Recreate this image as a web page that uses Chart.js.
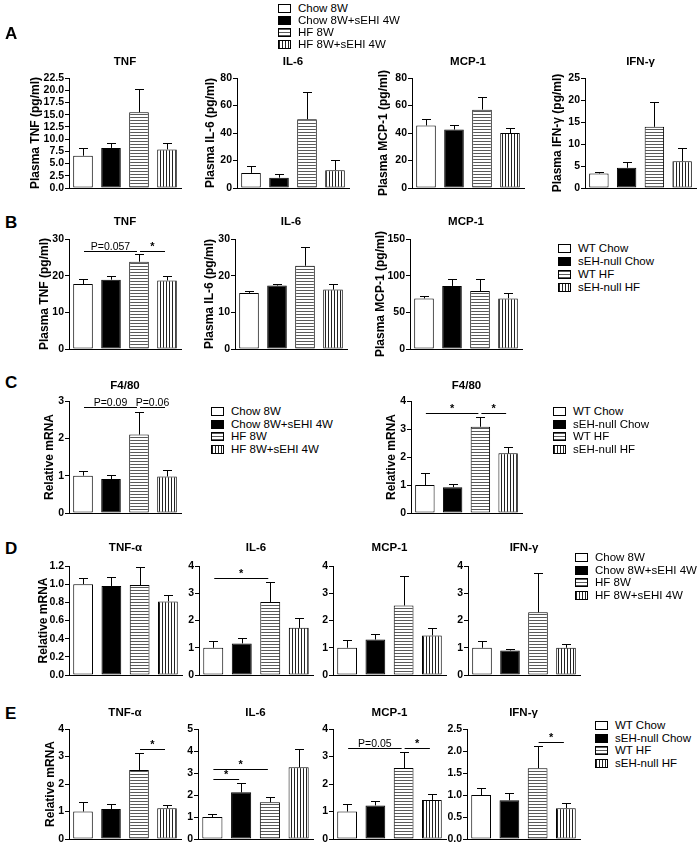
<!DOCTYPE html>
<html>
<head>
<meta charset="utf-8">
<script src="https://cdn.jsdelivr.net/npm/chart.js@4.4.0/dist/chart.umd.min.js"></script>
<style>
body { margin: 0; background: #fff; font-family: "Liberation Sans", Arial, sans-serif; }
#fig { position: relative; width: 699px; height: 846px; overflow: hidden; }
canvas { position: absolute; }
.panel { position: absolute; font-weight: bold; font-size: 17px; line-height: 17px; }
.leg { position: absolute; font-size: 11.5px; color: #000; }
.leg .it { position: absolute; white-space: nowrap; line-height: 12px; height: 12px; }
.sw { display: inline-block; width: 11px; height: 7px; border: 1px solid #000; margin-right: 7px; vertical-align: -1px; }
</style>
</head>
<body>
<div id="fig"></div>
<script>
// groups
const dietGroups = ['Chow 8W', 'Chow 8W+sEHI 4W', 'HF 8W', 'HF 8W+sEHI 4W'];
const genoGroups = ['WT Chow', 'sEH-null Chow', 'WT HF', 'sEH-null HF'];

// A - plasma, sEHI
const aTnf = [6.6, 8.2, 15.5, 7.9];     const aTnfSem = [1.5, 1.1, 4.8, 1.4];
const aIl6 = [11, 7.5, 50, 13];         const aIl6Sem = [5, 2.5, 20, 7.5];
const aMcp = [45.5, 42.5, 57, 40];      const aMcpSem = [5, 3.5, 9.5, 4];
const aIfn = [3.3, 4.6, 13.9, 6.1];     const aIfnSem = [0.4, 1.4, 5.7, 2.9];
const aTnfTicks = [0, 2.5, 5, 7.5, 10, 12.5, 15, 17.5, 20, 22.5];
const aIl6Ticks = [0, 20, 40, 60, 80];
const aMcpTicks = [0, 20, 40, 60, 80];
const aIfnTicks = [0, 5, 10, 15, 20, 25];

// B - plasma, sEH-null
const bTnf = [17.7, 18.9, 23.8, 18.7];  const bTnfSem = [1.5, 1.1, 2.0, 1.1];
const bIl6 = [15.3, 17.3, 22.7, 16.2];  const bIl6Sem = [0.6, 0.5, 5.0, 1.4];
const bMcp = [69, 86, 79, 69];          const bMcpSem = [3, 9, 17, 7];
const bTnfTicks = [0, 10, 20, 30];
const bIl6Ticks = [0, 10, 20, 30];
const bMcpTicks = [0, 50, 100, 150];
const bTnfSig = [[0, 2, 26.7, 'P=0.057'], [2, 3, 26.7, '*']];

// C - F4/80 mRNA
const cDiet = [1.0, 0.91, 2.1, 0.98];   const cDietSem = [0.12, 0.11, 0.6, 0.17];
const cGeno = [1.0, 0.92, 3.08, 2.13];  const cGenoSem = [0.44, 0.12, 0.36, 0.22];
const cDietTicks = [0, 1, 2, 3];
const cGenoTicks = [0, 1, 2, 3, 4];
const cDietSig = [[0, 2, 2.83, 'P=0.09'], [2, 3, 2.83, 'P=0.06']];
const cGenoSig = [[0, 2, 3.56, '*'], [2, 3, 3.56, '*']];

// D - mRNA, sEHI
const dTnf = [1.0, 0.98, 0.99, 0.81];   const dTnfSem = [0.065, 0.095, 0.2, 0.07];
const dIl6 = [1.0, 1.16, 2.68, 1.73];   const dIl6Sem = [0.26, 0.18, 0.73, 0.37];
const dMcp = [1.0, 1.3, 2.55, 1.45];    const dMcpSem = [0.27, 0.2, 1.1, 0.27];
const dIfn = [1.0, 0.9, 2.3, 1.0];      const dIfnSem = [0.23, 0.07, 1.46, 0.14];
const dTnfTicks = [0, 0.2, 0.4, 0.6, 0.8, 1.0, 1.2];
const dTicks = [0, 1, 2, 3, 4];
const dIl6Sig = [[0, 2, 3.56, '*']];

// E - mRNA, sEH-null
const eTnf = [1.0, 1.09, 2.51, 1.12];   const eTnfSem = [0.33, 0.18, 0.61, 0.12];
const eIl6 = [1.0, 2.12, 1.67, 3.26];   const eIl6Sem = [0.12, 0.44, 0.25, 0.84];
const eMcp = [1.0, 1.22, 2.58, 1.42];   const eMcpSem = [0.27, 0.15, 0.57, 0.21];
const eIfn = [1.0, 0.88, 1.61, 0.7];    const eIfnSem = [0.16, 0.16, 0.5, 0.11];
const eTnfTicks = [0, 1, 2, 3, 4];
const eIl6Ticks = [0, 1, 2, 3, 4, 5];
const eMcpTicks = [0, 1, 2, 3, 4];
const eIfnTicks = [0, 0.5, 1.0, 1.5, 2.0, 2.5];
const eTnfSig = [[2, 3, 3.27, '*']];
const eIl6Sig = [[0, 2, 3.18, '*'], [0, 1, 2.71, '*']];
const eMcpSig = [[0, 2, 3.3, 'P=0.05'], [2, 3, 3.3, '*']];
const eIfnSig = [[2, 3, 2.21, '*']];

const FONT = '"Liberation Sans", Arial, sans-serif';
const fig = document.getElementById('fig');

function stripes(dir) {
  const c = document.createElement('canvas');
  c.width = 3; c.height = 3;
  const g = c.getContext('2d');
  g.fillStyle = '#fff'; g.fillRect(0, 0, 3, 3);
  g.fillStyle = dir === 'h' ? '#5a5a5a' : '#222';
  if (dir === 'h') g.fillRect(0, 0, 3, 1); else g.fillRect(0, 0, 1, 3);
  return g.createPattern(c, 'repeat');
}
const fills = ['#ffffff', '#000000', stripes('h'), stripes('v')];

// error bars, significance lines and chart title
const extras = {
  id: 'extras',
  afterDatasetsDraw(chart) {
    const o = chart.options.plugins.extras;
    const ctx = chart.ctx, y = chart.scales.y, area = chart.chartArea;
    const meta = chart.getDatasetMeta(0);
    const vals = chart.data.datasets[0].data;
    ctx.save();
    ctx.strokeStyle = '#000';
    ctx.lineWidth = 1;
    meta.data.forEach((bar, i) => {
      const bx = Math.round(bar.x) + 0.5;
      const top = Math.round(y.getPixelForValue(vals[i] + o.err[i])) + 0.5;
      ctx.beginPath();
      ctx.moveTo(bx, bar.y);
      ctx.lineTo(bx, top);
      ctx.moveTo(bx - 4.5, top);
      ctx.lineTo(bx + 4.5, top);
      ctx.stroke();
    });
    o.sig.forEach(([a, b, v, t]) => {
      const ly = Math.round(y.getPixelForValue(v)) + 0.5;
      const x1 = meta.data[a].x + 1, x2 = meta.data[b].x - 2;
      ctx.beginPath();
      ctx.moveTo(x1, ly);
      ctx.lineTo(x2, ly);
      ctx.stroke();
      ctx.fillStyle = '#000';
      ctx.textAlign = 'center';
      ctx.textBaseline = 'alphabetic';
      ctx.font = t === '*' ? 'bold 11px ' + FONT : '10.5px ' + FONT;
      ctx.fillText(t, (x1 + x2) / 2, ly - 2);
    });
    ctx.fillStyle = '#000';
    ctx.textAlign = 'center';
    ctx.textBaseline = 'middle';
    ctx.font = 'bold 11.5px ' + FONT;
    ctx.fillText(o.title, (area.left + area.right) / 2, o.titleY);
    ctx.restore();
  }
};

function makeChart(s) {
  const TOP = 30, BOT = 8, RIGHT = 4;
  const left = s.ytx ? Math.round(s.ytx - 7.2) : s.ax - 30;
  const w = s.xr - left + RIGHT, h = s.yb - s.yt + TOP + BOT;
  const cv = document.createElement('canvas');
  cv.width = w; cv.height = h;
  cv.style.left = left + 'px';
  cv.style.top = (s.yt - TOP) + 'px';
  fig.appendChild(cv);
  const dec = s.ticks.some(v => v % 1 !== 0) ? 1 : 0;
  new Chart(cv, {
    type: 'bar',
    data: {
      labels: s.groups,
      datasets: [{
        data: s.vals,
        backgroundColor: fills,
        borderColor: '#000',
        borderWidth: 1,
        borderSkipped: false,
        barPercentage: 0.7,
        categoryPercentage: 1
      }]
    },
    options: {
      responsive: false,
      animation: false,
      devicePixelRatio: 1,
      layout: { autoPadding: false, padding: { left: 0, top: TOP, right: RIGHT, bottom: BOT } },
      plugins: {
        legend: { display: false },
        tooltip: { enabled: false },
        extras: { err: s.err, sig: s.sig || [], title: s.title, titleY: s.titleY - s.yt + TOP }
      },
      scales: {
        x: {
          ticks: { display: false },
          grid: { display: false },
          border: { display: true, color: '#000', width: 1 },
          afterFit(sc) { sc.height = 0; }
        },
        y: {
          min: s.ticks[0],
          max: s.ticks[s.ticks.length - 1],
          afterBuildTicks(sc) { sc.ticks = s.ticks.map(v => ({ value: v })); },
          ticks: {
            color: '#000',
            padding: 1,
            autoSkip: false,
            font: { family: FONT, size: 10.5, weight: 'bold' },
            callback: v => Number(v).toFixed(dec)
          },
          grid: { drawOnChartArea: false, drawTicks: true, tickLength: 4, color: '#000' },
          border: { display: true, color: '#000', width: 1 },
          title: {
            display: !!s.yTitle,
            text: s.yTitle || '',
            color: '#000',
            padding: 0,
            font: { family: FONT, size: 12, weight: 'bold' }
          },
          afterFit(sc) { sc.width = s.ax - left; }
        }
      }
    },
    plugins: [extras]
  });
}

const rowA = { yt: 78, yb: 188, titleY: 62, groups: dietGroups };
const rowB = { yt: 239, yb: 349, titleY: 222, groups: genoGroups };
const rowD = { yt: 566, yb: 675, titleY: 548, groups: dietGroups };
const rowE = { yt: 729, yb: 839, titleY: 713, groups: genoGroups };

const specs = [
  { ...rowA, vals: aTnf, err: aTnfSem, ticks: aTnfTicks, title: 'TNF', yTitle: 'Plasma TNF (pg/ml)', ax: 69, xr: 181, ytx: 35 },
  { ...rowA, vals: aIl6, err: aIl6Sem, ticks: aIl6Ticks, title: 'IL-6', yTitle: 'Plasma IL-6 (pg/ml)', ax: 237, xr: 349, ytx: 210 },
  { ...rowA, vals: aMcp, err: aMcpSem, ticks: aMcpTicks, title: 'MCP-1', yTitle: 'Plasma MCP-1 (pg/ml)', ax: 412, xr: 524, ytx: 383 },
  { ...rowA, vals: aIfn, err: aIfnSem, ticks: aIfnTicks, title: 'IFN-γ', yTitle: 'Plasma IFN-γ (pg/ml)', ax: 585, xr: 696, ytx: 557 },

  { ...rowB, vals: bTnf, err: bTnfSem, ticks: bTnfTicks, title: 'TNF', yTitle: 'Plasma TNF (pg/ml)', ax: 69, xr: 181, ytx: 44, sig: bTnfSig },
  { ...rowB, vals: bIl6, err: bIl6Sem, ticks: bIl6Ticks, title: 'IL-6', yTitle: 'Plasma IL-6 (pg/ml)', ax: 235, xr: 347, ytx: 209 },
  { ...rowB, vals: bMcp, err: bMcpSem, ticks: bMcpTicks, title: 'MCP-1', yTitle: 'Plasma MCP-1 (pg/ml)', ax: 410, xr: 522, ytx: 380 },

  { yt: 401, yb: 513, titleY: 386, groups: dietGroups, vals: cDiet, err: cDietSem, ticks: cDietTicks, title: 'F4/80', yTitle: 'Relative mRNA', ax: 69, xr: 181, ytx: 49, sig: cDietSig },
  { yt: 401, yb: 513, titleY: 386, groups: genoGroups, vals: cGeno, err: cGenoSem, ticks: cGenoTicks, title: 'F4/80', yTitle: 'Relative mRNA', ax: 411, xr: 522, ytx: 391, sig: cGenoSig },

  { ...rowD, vals: dTnf, err: dTnfSem, ticks: dTnfTicks, title: 'TNF-α', yTitle: 'Relative mRNA', ax: 69, xr: 182, ytx: 43 },
  { ...rowD, vals: dIl6, err: dIl6Sem, ticks: dTicks, title: 'IL-6', ax: 199, xr: 313, sig: dIl6Sig },
  { ...rowD, vals: dMcp, err: dMcpSem, ticks: dTicks, title: 'MCP-1', ax: 333, xr: 446 },
  { ...rowD, vals: dIfn, err: dIfnSem, ticks: dTicks, title: 'IFN-γ', ax: 468, xr: 580 },

  { ...rowE, vals: eTnf, err: eTnfSem, ticks: eTnfTicks, title: 'TNF-α', yTitle: 'Relative mRNA', ax: 69, xr: 181, ytx: 50, sig: eTnfSig },
  { ...rowE, vals: eIl6, err: eIl6Sem, ticks: eIl6Ticks, title: 'IL-6', ax: 198, xr: 313, sig: eIl6Sig },
  { ...rowE, vals: eMcp, err: eMcpSem, ticks: eMcpTicks, title: 'MCP-1', ax: 333, xr: 446, sig: eMcpSig },
  { ...rowE, vals: eIfn, err: eIfnSem, ticks: eIfnTicks, title: 'IFN-γ', ax: 467, xr: 580, sig: eIfnSig }
];
specs.forEach(makeChart);

// legends
const swatchCss = [
  'background:#fff',
  'background:#000',
  'background:repeating-linear-gradient(to bottom,#5a5a5a 0 1px,#fff 1px 3px)',
  'background:repeating-linear-gradient(to right,#222 0 1px,#fff 1px 3px)'
];
function legend(x, y, step, groups) {
  const box = document.createElement('div');
  box.className = 'leg';
  box.style.left = x + 'px';
  box.style.top = '0px';
  groups.forEach((g, i) => {
    const it = document.createElement('div');
    it.className = 'it';
    it.style.top = (y + i * step - 6) + 'px';
    it.innerHTML = '<span class="sw" style="' + swatchCss[i] + '"></span>' + g;
    box.appendChild(it);
  });
  fig.appendChild(box);
}
legend(278, 8, 12, dietGroups);
legend(558, 248, 13, genoGroups);
legend(211, 411, 12.7, dietGroups);
legend(553, 411, 12.7, genoGroups);
legend(575, 557, 12.5, dietGroups);
legend(595, 725, 12.5, genoGroups);

// panel letters
[['A', 33], ['B', 222], ['C', 382], ['D', 548], ['E', 713]].forEach(([t, y]) => {
  const d = document.createElement('div');
  d.className = 'panel';
  d.textContent = t;
  d.style.left = '5px';
  d.style.top = (y - 8) + 'px';
  fig.appendChild(d);
});
</script>
</body>
</html>
